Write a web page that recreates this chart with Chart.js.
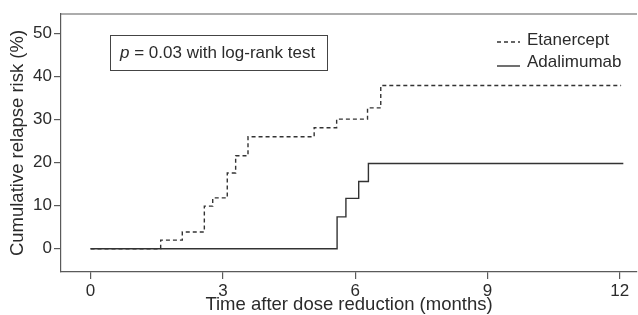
<!DOCTYPE html>
<html>
<head>
<meta charset="utf-8">
<script src="https://cdn.jsdelivr.net/npm/chart.js@4/dist/chart.umd.min.js"></script>
<style>
  html, body { margin: 0; padding: 0; background: #fff; }
  #wrap { width: 638px; height: 315px; }
</style>
</head>
<body>
<div id="wrap"><canvas id="myChart"></canvas></div>
<script>
// Kaplan-Meier style step data (months, cumulative relapse risk %)
const etanerceptTimes = [0, 1.59, 2.08, 2.58, 2.77, 3.10, 3.29, 3.57, 5.07, 5.58, 6.28, 6.58, 12.03];
const etanerceptRisk  = [0, 2.0, 3.9, 9.9, 11.8, 17.6, 21.6, 26.0, 28.1, 30.1, 32.7, 37.9, 37.9];
const adalimumabTimes = [0, 5.59, 5.79, 6.08, 6.30, 12.08];
const adalimumabRisk  = [0, 7.4, 11.7, 15.6, 19.8, 19.8];
const xTicks = [0, 3, 6, 9, 12];
const yTicks = [0, 10, 20, 30, 40, 50];
const pText = 'p';
const noteText = ' = 0.03 with log-rank test';

const FONT = '"Liberation Sans", Arial, sans-serif';
const AXIS = '#5a5a5a';
const INK = '#2b2b2b';

function toPoints(xs, ys) {
    return xs.map((x, i) => ({ x: x, y: ys[i] }));
}

(function() {

    const data = {
        datasets: [{
            label: 'Etanercept',
            data: toPoints(etanerceptTimes, etanerceptRisk),
            borderColor: '#333',
            borderWidth: 1.4,
            borderDash: [4, 3],
            stepped: 'before',
            pointRadius: 0,
            fill: false,
            order: 2
        }, {
            label: 'Adalimumab',
            data: toPoints(adalimumabTimes, adalimumabRisk),
            borderColor: '#333',
            borderWidth: 1.4,
            stepped: 'before',
            pointRadius: 0,
            fill: false,
            order: 1
        }]
    };

    // p-value box, inline legend and top frame line
    const extras = {
        id: 'extras',
        afterDraw(chart) {
            const ctx = chart.ctx;
            const area = chart.chartArea;
            ctx.save();

            ctx.strokeStyle = AXIS;
            ctx.lineWidth = 1.2;
            ctx.beginPath();
            ctx.moveTo(area.left, area.top);
            ctx.lineTo(area.right, area.top);
            ctx.stroke();

            // annotation box
            ctx.strokeStyle = '#444';
            ctx.lineWidth = 1;
            ctx.strokeRect(110.5, 35.5, 217, 35);
            ctx.fillStyle = INK;
            ctx.textBaseline = 'middle';
            ctx.textAlign = 'left';
            ctx.font = 'italic 17px ' + FONT;
            ctx.fillText(pText, 120, 53);
            const pw = ctx.measureText(pText).width;
            ctx.font = '17px ' + FONT;
            ctx.fillText(noteText, 120 + pw, 53);

            // legend
            const items = [
                { ds: chart.data.datasets[0], y: 40, lineY: 42 },
                { ds: chart.data.datasets[1], y: 62, lineY: 66 }
            ];
            items.forEach(it => {
                ctx.strokeStyle = '#333';
                ctx.lineWidth = 1.4;
                ctx.setLineDash(it.ds.borderDash || []);
                ctx.beginPath();
                ctx.moveTo(497, it.lineY);
                ctx.lineTo(520, it.lineY);
                ctx.stroke();
                ctx.setLineDash([]);
                ctx.fillStyle = INK;
                ctx.font = '17px ' + FONT;
                ctx.fillText(it.ds.label, 527, it.y);
            });
            ctx.restore();
        }
    };

    const myChart = new Chart(
        document.getElementById('myChart'),
        {
            type: 'line',
            data: data,
            plugins: [extras],
            options: {
                responsive: true,
                maintainAspectRatio: false,
                animation: false,
                layout: {
                    padding: { top: 14, right: 1, left: 0, bottom: 0 }
                },
                plugins: {
                    legend: { display: false },
                    tooltip: { enabled: false }
                },
                scales: {
                    x: {
                        type: 'linear',
                        min: -0.67,
                        max: 12.39,
                        afterBuildTicks: s => { s.ticks = xTicks.map(v => ({ value: v })); },
                        afterFit: s => { s.height = 43; },
                        grid: { drawOnChartArea: false, drawTicks: true, tickLength: 7, color: AXIS, lineWidth: 1.2 },
                        border: { display: true, color: AXIS, width: 1.2 },
                        ticks: { color: INK, font: { family: FONT, size: 17 }, padding: 2, maxRotation: 0 },
                        title: {
                            display: true,
                            text: 'Time after dose reduction (months)',
                            color: INK,
                            font: { family: FONT, size: 18.5, lineHeight: 1 },
                            padding: { top: 0, bottom: 1 }
                        }
                    },
                    y: {
                        min: -5.4,
                        max: 54.5,
                        afterBuildTicks: s => { s.ticks = yTicks.map(v => ({ value: v })); },
                        afterFit: s => { s.width = 61; },
                        grid: { drawOnChartArea: false, drawTicks: true, tickLength: 7, color: AXIS, lineWidth: 1.2 },
                        border: { display: true, color: AXIS, width: 1.2 },
                        ticks: { color: INK, font: { family: FONT, size: 17 }, padding: 2 },
                        title: {
                            display: true,
                            text: 'Cumulative relapse risk (%)',
                            color: INK,
                            font: { family: FONT, size: 18.5, lineHeight: 1 },
                            padding: { top: 9, bottom: 0 }
                        }
                    }
                }
            }
        }
    );
})();
</script>
</body>
</html>
